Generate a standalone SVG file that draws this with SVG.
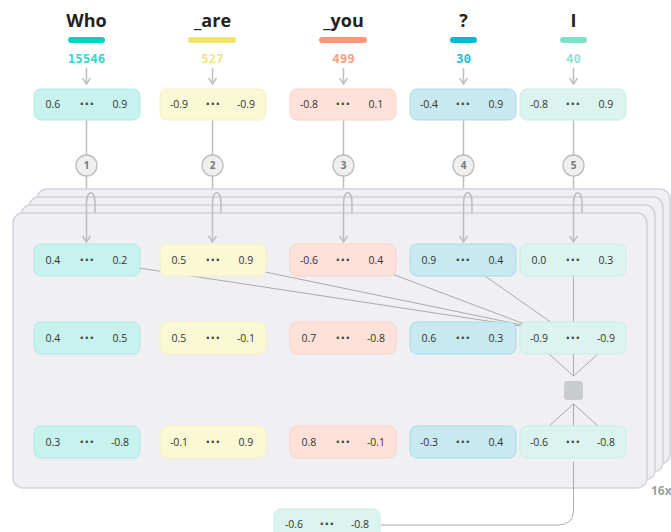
<svg xmlns="http://www.w3.org/2000/svg" width="671" height="532" viewBox="0 0 671 532">
<defs>
<marker id="arrd" markerWidth="10" markerHeight="8" refX="5" refY="7" markerUnits="userSpaceOnUse" viewBox="0 0 10 8">
<path d="M1,1 L5,7 L9,1" fill="none" stroke="#bdbdbd" stroke-width="1.4"/>
</marker>
<style>
.title{font-family:"Open Sans","Liberation Sans",sans-serif;font-weight:bold;font-size:18px;fill:#222;text-anchor:middle}
.num{font-family:"DejaVu Sans Mono","Liberation Mono",monospace;font-weight:bold;font-size:12.5px;text-anchor:middle}
.v{font-family:"Open Sans","Liberation Sans",sans-serif;font-size:10.5px;fill:#333;text-anchor:middle}
.d{font-family:"DejaVu Sans","Liberation Sans",sans-serif;font-size:12px;font-weight:bold;fill:#444;text-anchor:middle;letter-spacing:0.5px}
.c{font-family:"Open Sans","Liberation Sans",sans-serif;font-size:10px;font-weight:bold;fill:#777;text-anchor:middle}
.panel{fill:#efeff4;stroke:#d3d2db;stroke-width:1.5}
.who{fill:#c8f2ee;stroke:#aeeae3}
.are{fill:#fbf8d6;stroke:#f4f0c2}
.you{fill:#fee2da;stroke:#fcd3c7}
.q{fill:#c7e9ef;stroke:#a9dde8}
.i{fill:#dcf4ef;stroke:#c9ede5}
.ln{stroke:#bdbdbd;stroke-width:1.5;fill:none}
.thin{stroke:#ababab;stroke-width:1;fill:none}
.circ{fill:#efefef;stroke:#bdbdbd;stroke-width:1.3}
</style>
</defs>

<g id="panels">
<rect class="panel" x="37" y="189" width="633" height="275" rx="10"/>
<rect class="panel" x="29" y="197" width="634" height="275" rx="10"/>
<rect class="panel" x="21" y="205" width="634" height="275" rx="10"/>
<rect class="panel" x="13" y="213" width="634" height="275" rx="10"/>
<text x="651" y="495" font-family="Open Sans,Liberation Sans,sans-serif" font-size="12" font-weight="bold" fill="#a0a0a0">16x</text>
</g>

<g id="connectors">
<line class="ln" x1="86.5" y1="68" x2="86.5" y2="84" marker-end="url(#arrd)"/>
<line class="ln" x1="212.5" y1="68" x2="212.5" y2="84" marker-end="url(#arrd)"/>
<line class="ln" x1="343.5" y1="68" x2="343.5" y2="84" marker-end="url(#arrd)"/>
<line class="ln" x1="463.5" y1="68" x2="463.5" y2="84" marker-end="url(#arrd)"/>
<line class="ln" x1="573.5" y1="68" x2="573.5" y2="84" marker-end="url(#arrd)"/>

<path class="ln" d="M86.5,120 V155 M86.5,176 V188 M95,213 V204 C95,189 86.5,189 86.5,204 V242" marker-end="url(#arrd)"/>
<path class="ln" d="M212.5,120 V155 M212.5,176 V188 M221,213 V204 C221,189 212.5,189 212.5,204 V242" marker-end="url(#arrd)"/>
<path class="ln" d="M343.5,120 V155 M343.5,176 V188 M352,213 V204 C352,189 343.5,189 343.5,204 V242" marker-end="url(#arrd)"/>
<path class="ln" d="M463.5,120 V155 M463.5,176 V188 M472,213 V204 C472,189 463.5,189 463.5,204 V242" marker-end="url(#arrd)"/>
<path class="ln" d="M573.5,120 V155 M573.5,176 V188 M582,213 V204 C582,189 573.5,189 573.5,204 V242" marker-end="url(#arrd)"/>

<line class="thin" x1="139" y1="268" x2="527" y2="327"/>
<line class="thin" x1="265" y1="272" x2="527" y2="326"/>
<line class="thin" x1="392" y1="274" x2="527" y2="325"/>
<line class="thin" x1="485" y1="276" x2="552" y2="323"/>
<line class="thin" x1="573.5" y1="276" x2="573.5" y2="322"/>

<line class="thin" x1="549" y1="354" x2="573.5" y2="376"/>
<line class="thin" x1="598" y1="354" x2="573.5" y2="376"/>
<line class="thin" x1="573.5" y1="354" x2="573.5" y2="376"/>
<line class="thin" x1="573.5" y1="404" x2="549" y2="426"/>
<line class="thin" x1="573.5" y1="404" x2="598" y2="426"/>
<line class="thin" x1="573.5" y1="404" x2="573.5" y2="426"/>

<path class="thin" d="M573.5,462 V510 Q573.5,525 558,525 H381" stroke="#b5b5b5" stroke-width="1.3"/>
</g>

<g id="who">
<text class="title" x="86.5" y="27">Who</text>
<rect x="68" y="37" width="37" height="6" rx="3" fill="#00d2c2"/>
<text class="num" x="86.5" y="63" fill="#36d6c9">15546</text>
<rect class="who" x="34" y="89" width="106" height="31" rx="7"/>
<text class="v" x="53" y="108">0.6</text><text class="d" x="87" y="108">···</text><text class="v" x="120" y="108">0.9</text>
</g>
<g id="are">
<text class="title" x="212.5" y="27">_are</text>
<rect x="188" y="37" width="48" height="6" rx="3" fill="#f2e26e"/>
<text class="num" x="212.5" y="63" fill="#f5e27c">527</text>
<rect class="are" x="160" y="89" width="106" height="31" rx="7"/>
<text class="v" x="179" y="108">-0.9</text><text class="d" x="213" y="108">···</text><text class="v" x="246" y="108">-0.9</text>
</g>
<g id="you">
<text class="title" x="343.5" y="27">_you</text>
<rect x="319" y="37" width="48" height="6" rx="3" fill="#ff9677"/>
<text class="num" x="343.5" y="63" fill="#ff9e82">499</text>
<rect class="you" x="290" y="89" width="106" height="31" rx="7"/>
<text class="v" x="309" y="108">-0.8</text><text class="d" x="343" y="108">···</text><text class="v" x="376" y="108">0.1</text>
</g>
<g id="q">
<text class="title" x="463.5" y="27">?</text>
<rect x="450" y="37" width="27" height="6" rx="3" fill="#00b9d5"/>
<text class="num" x="463.5" y="63" fill="#23bdd7">30</text>
<rect class="q" x="410" y="89" width="106" height="31" rx="7"/>
<text class="v" x="429" y="108">-0.4</text><text class="d" x="463" y="108">···</text><text class="v" x="496" y="108">0.9</text>
</g>
<g id="i">
<text class="title" x="573.5" y="27">I</text>
<rect x="560" y="37" width="27" height="6" rx="3" fill="#7de2ca"/>
<text class="num" x="573.5" y="63" fill="#8fe4d1">40</text>
<rect class="i" x="520" y="89" width="106" height="31" rx="7"/>
<text class="v" x="539" y="108">-0.8</text><text class="d" x="573" y="108">···</text><text class="v" x="606" y="108">0.9</text>
</g>

<g id="circles">
<circle class="circ" cx="86.5" cy="165.5" r="10.5"/><text class="c" x="86.5" y="169">1</text>
<circle class="circ" cx="212.5" cy="165.5" r="10.5"/><text class="c" x="212.5" y="169">2</text>
<circle class="circ" cx="343.5" cy="165.5" r="10.5"/><text class="c" x="343.5" y="169">3</text>
<circle class="circ" cx="463.5" cy="165.5" r="10.5"/><text class="c" x="463.5" y="169">4</text>
<circle class="circ" cx="573.5" cy="165.5" r="10.5"/><text class="c" x="573.5" y="169">5</text>
</g>

<g id="row1">
<rect class="who" x="34" y="244" width="106" height="32" rx="7"/>
<text class="v" x="53" y="264">0.4</text><text class="d" x="87" y="264">···</text><text class="v" x="120" y="264">0.2</text>
<rect class="are" x="160" y="244" width="106" height="32" rx="7"/>
<text class="v" x="179" y="264">0.5</text><text class="d" x="213" y="264">···</text><text class="v" x="246" y="264">0.9</text>
<rect class="you" x="290" y="244" width="106" height="32" rx="7"/>
<text class="v" x="309" y="264">-0.6</text><text class="d" x="343" y="264">···</text><text class="v" x="376" y="264">0.4</text>
<rect class="q" x="410" y="244" width="106" height="32" rx="7"/>
<text class="v" x="429" y="264">0.9</text><text class="d" x="463" y="264">···</text><text class="v" x="496" y="264">0.4</text>
<rect class="i" x="520" y="244" width="106" height="32" rx="7"/>
<text class="v" x="539" y="264">0.0</text><text class="d" x="573" y="264">···</text><text class="v" x="606" y="264">0.3</text>
</g>

<g id="row2">
<rect class="who" x="34" y="322" width="106" height="32" rx="7"/>
<text class="v" x="53" y="342">0.4</text><text class="d" x="87" y="342">···</text><text class="v" x="120" y="342">0.5</text>
<rect class="are" x="160" y="322" width="106" height="32" rx="7"/>
<text class="v" x="179" y="342">0.5</text><text class="d" x="213" y="342">···</text><text class="v" x="246" y="342">-0.1</text>
<rect class="you" x="290" y="322" width="106" height="32" rx="7"/>
<text class="v" x="309" y="342">0.7</text><text class="d" x="343" y="342">···</text><text class="v" x="376" y="342">-0.8</text>
<rect class="q" x="410" y="322" width="106" height="32" rx="7"/>
<text class="v" x="429" y="342">0.6</text><text class="d" x="463" y="342">···</text><text class="v" x="496" y="342">0.3</text>
<rect class="i" x="520" y="322" width="106" height="32" rx="7"/>
<text class="v" x="539" y="342">-0.9</text><text class="d" x="573" y="342">···</text><text class="v" x="606" y="342">-0.9</text>
</g>

<g id="combine">
<rect x="564" y="381" width="19" height="19" rx="3.5" fill="#c9cccc"/>
</g>

<g id="row3">
<rect class="who" x="34" y="426" width="106" height="32" rx="7"/>
<text class="v" x="53" y="446">0.3</text><text class="d" x="87" y="446">···</text><text class="v" x="120" y="446">-0.8</text>
<rect class="are" x="160" y="426" width="106" height="32" rx="7"/>
<text class="v" x="179" y="446">-0.1</text><text class="d" x="213" y="446">···</text><text class="v" x="246" y="446">0.9</text>
<rect class="you" x="290" y="426" width="106" height="32" rx="7"/>
<text class="v" x="309" y="446">0.8</text><text class="d" x="343" y="446">···</text><text class="v" x="376" y="446">-0.1</text>
<rect class="q" x="410" y="426" width="106" height="32" rx="7"/>
<text class="v" x="429" y="446">-0.3</text><text class="d" x="463" y="446">···</text><text class="v" x="496" y="446">0.4</text>
<rect class="i" x="520" y="426" width="106" height="32" rx="7"/>
<text class="v" x="539" y="446">-0.6</text><text class="d" x="573" y="446">···</text><text class="v" x="606" y="446">-0.8</text>
</g>

<g id="output">
<rect class="i" x="274" y="509" width="106" height="32" rx="7"/>
<text class="v" x="294" y="528">-0.6</text><text class="d" x="327" y="528">···</text><text class="v" x="360" y="528">-0.8</text>
</g>
</svg>
